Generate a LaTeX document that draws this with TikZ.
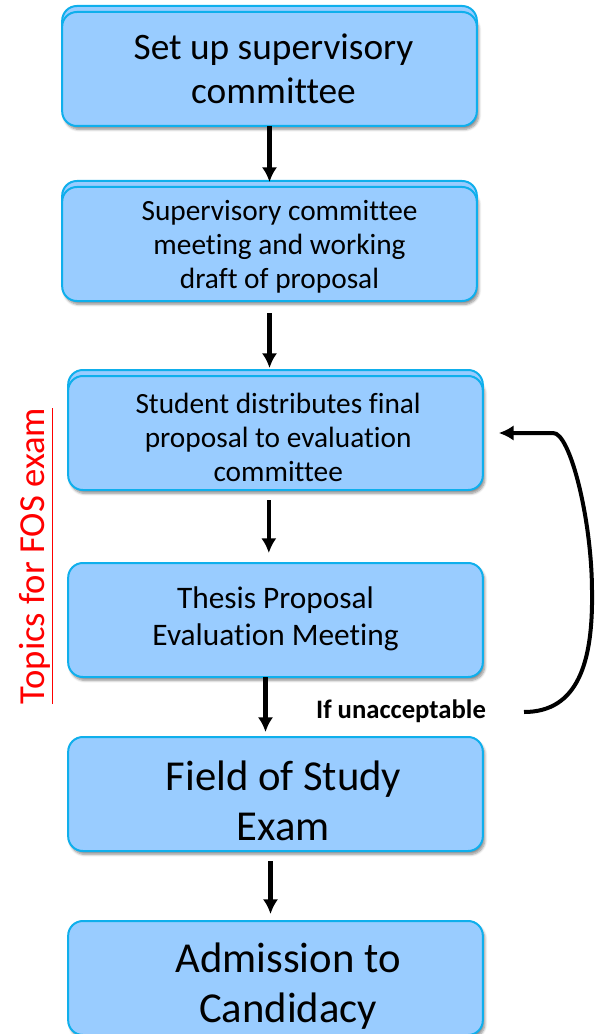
\documentclass[tikz,border=0pt]{standalone}
\usepackage{fontspec}
\setmainfont{Carlito}[Ligatures=CommonOff]
\usepackage{tikz}
\usetikzlibrary{positioning}
\usetikzlibrary{arrows.meta}
\usetikzlibrary{shadows}
\usetikzlibrary{shadows.blur}
\definecolor{boxfill}{HTML}{99CCFF}
\definecolor{boxline}{HTML}{0FAFEC}
\tikzset{stepbox/.style={shape=rectangle, rounded corners=11pt, draw=boxline, line width=1.5pt,
    fill=boxfill, minimum width=311pt, minimum height=85.5pt, outer sep=0pt, inner sep=2pt,
    blur shadow={shadow xshift=1.5pt, shadow yshift=-2.5pt, shadow blur steps=6, shadow opacity=45}},
  steptext/.style={align=center, inner sep=0pt},
  stacked/.style={copy shadow={shadow xshift=0pt, shadow yshift=4.5pt}},
  flow/.style={-{Latex[length=11pt, width=11.5pt]}, line width=3.5pt}}

\begin{document}
\begin{tikzpicture}[x=0.75pt, y=-0.75pt]
  \useasboundingbox (0,0) rectangle (596,1034);
  % the boxes
  \node[stepbox, stacked] (setup) at (269.5,69) {};
  \node[stepbox, stacked, below = 45.75pt of setup.south] (meeting) {};
  \node[stepbox, stacked, below = 56.25pt of meeting.south, xshift=4.5pt] (distrib) {};
  \node[stepbox, below = 54.75pt of distrib.south] (evalmeet) {};
  \node[stepbox, below = 45pt of evalmeet.south] (fos) {};
  \node[stepbox, below = 52.5pt of fos.south] (admit) {};

  % their texts
  \node[steptext, font=\fontsize{28}{33}\selectfont] (setuptxt) at ([xshift=3pt]setup.center)
    {Set up supervisory\\committee};
  \node[steptext, font=\fontsize{22}{25.5}\selectfont] (meetingtxt)
    at ([xshift=7.5pt, yshift=-2pt]meeting.center)
    {Supervisory committee\\meeting and working\\draft of proposal};
  \node[steptext, font=\fontsize{22}{25.5}\selectfont] (distribtxt)
    at ([xshift=2pt, yshift=-3pt]distrib.center)
    {Student distributes final\\proposal to evaluation\\committee};
  \node[steptext, font=\fontsize{23.5}{27.75}\selectfont] (evalmeettxt)
    at ([yshift=1pt]evalmeet.center) {Thesis Proposal\\Evaluation Meeting};
  \node[steptext, font=\fontsize{32}{37.5}\selectfont] (fostxt)
    at ([xshift=6pt, yshift=-5pt]fos.center) {Field of Study\\Exam};
  \node[steptext, font=\fontsize{32}{37.5}\selectfont] (admittxt)
    at ([xshift=9.5pt, yshift=-6pt]admit.center) {Admission to\\Candidacy};

  \draw[flow, shorten >=3.75pt] (setup.south) -- (setup.south |- meeting.north);
  \draw[flow, shorten <=9pt, shorten >=6pt] (meeting.south) -- (meeting.south |- distrib.north);
  \draw[flow, shorten <=7.5pt, shorten >=7.5pt] ([xshift=-5pt]distrib.south)
    -- ([xshift=-5pt]distrib.south |- evalmeet.north);
  \draw[flow, shorten >=3.75pt] ([xshift=-7.5pt]evalmeet.south)
    -- ([xshift=-7.5pt]evalmeet.south |- fos.north);
  \draw[flow, shorten <=7.5pt, shorten >=5.25pt] ([xshift=-3.75pt]fos.south)
    -- ([xshift=-3.75pt]fos.south |- admit.north);

  % loop back when the proposal is not accepted
  \node[font=\fontsize{20}{24}\selectfont\bfseries] (unacc) at (401,711) {If unacceptable};
  \coordinate (back) at (524,712);
  \coordinate (again) at ([xshift=12pt]distrib.east);
  \draw[flow, line width=3pt] (back) .. controls (578,712) and (593,662) .. (592,592)
    .. controls (592,520) and (570,432) .. (553,0 |- again) -- (again);

  \node[text=red, rotate=90, font=\fontsize{27.5}{33}\selectfont] (topics) at (36,556)
    {\underline{Topics for FOS exam}};
\end{tikzpicture}
\end{document}
